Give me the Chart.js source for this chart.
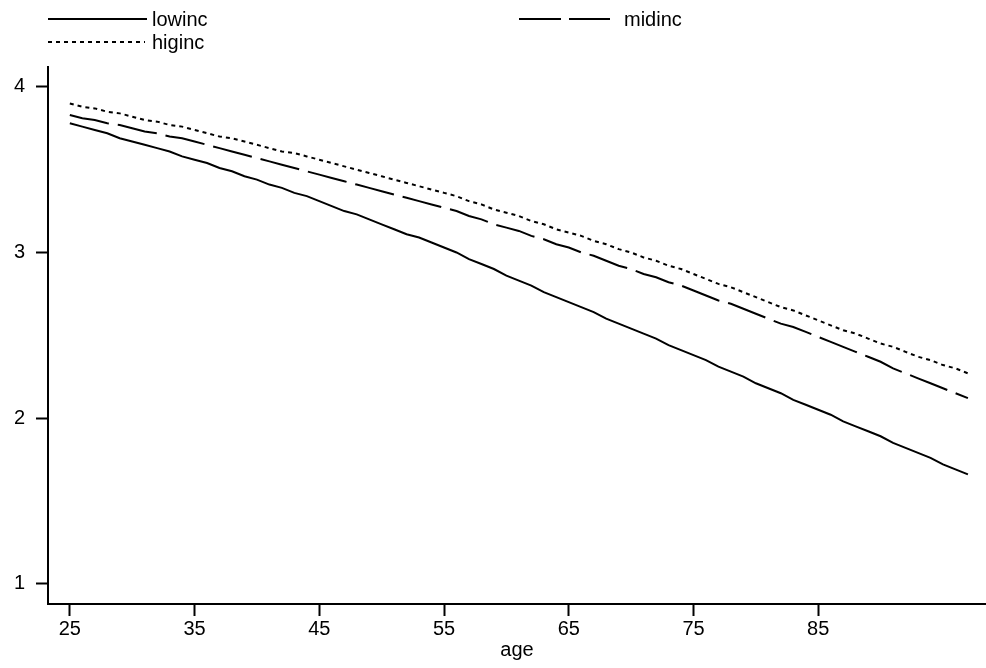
<!DOCTYPE html>
<html>
<head>
<meta charset="utf-8">
<script src="https://cdn.jsdelivr.net/npm/chart.js@4/dist/chart.umd.min.js"></script>
<style>
  html, body { margin: 0; padding: 0; background: #fff; }
  #wrap { width: 986px; height: 668px; }
</style>
</head>
<body>
<div id="wrap"><canvas id="chart"></canvas></div>
<script>
// ages 25..97
const ages = [25,26,27,28,29,30,31,32,33,34,35,36,37,38,39,40,41,42,43,44,45,46,47,48,49,
  50,51,52,53,54,55,56,57,58,59,60,61,62,63,64,65,66,67,68,69,70,71,72,73,74,
  75,76,77,78,79,80,81,82,83,84,85,86,87,88,89,90,91,92,93,94,95,96,97];

const lowinc = [3.78,3.76,3.74,3.72,3.69,3.67,3.65,3.63,3.61,3.58,3.56,
  3.54,3.51,3.49,3.46,3.44,3.41,3.39,3.36,3.34,3.31,
  3.28,3.25,3.23,3.20,3.17,3.14,3.11,3.09,3.06,3.03,
  3.00,2.96,2.93,2.90,2.86,2.83,2.80,2.76,2.73,2.70,
  2.67,2.64,2.60,2.57,2.54,2.51,2.48,2.44,2.41,2.38,
  2.35,2.31,2.28,2.25,2.21,2.18,2.15,2.11,2.08,2.05,
  2.02,1.98,1.95,1.92,1.89,1.85,1.82,1.79,1.76,1.72,1.69,1.66];

const midinc = [3.83,3.81,3.80,3.78,3.77,3.75,3.73,3.72,3.70,3.69,3.67,
  3.65,3.63,3.61,3.59,3.57,3.55,3.53,3.51,3.49,3.47,
  3.45,3.43,3.41,3.39,3.37,3.35,3.33,3.31,3.29,3.27,
  3.25,3.22,3.20,3.17,3.15,3.13,3.10,3.08,3.05,3.03,
  3.00,2.98,2.95,2.92,2.90,2.87,2.85,2.82,2.80,2.77,
  2.74,2.71,2.69,2.66,2.63,2.60,2.57,2.55,2.52,2.49,
  2.46,2.43,2.40,2.37,2.34,2.30,2.27,2.24,2.21,2.18,2.15,2.12];

const higinc = [3.90,3.88,3.87,3.85,3.84,3.82,3.80,3.79,3.77,3.76,3.74,
  3.72,3.70,3.69,3.67,3.65,3.63,3.61,3.60,3.58,3.56,
  3.54,3.52,3.50,3.48,3.46,3.44,3.42,3.40,3.38,3.36,
  3.34,3.31,3.29,3.26,3.24,3.22,3.19,3.17,3.14,3.12,
  3.10,3.07,3.05,3.02,3.00,2.97,2.95,2.92,2.90,2.87,
  2.84,2.81,2.79,2.76,2.73,2.70,2.67,2.65,2.62,2.59,
  2.56,2.53,2.51,2.48,2.45,2.43,2.40,2.37,2.35,2.32,2.30,2.27];

const xTicks = [25, 35, 45, 55, 65, 75, 85];
const yTicks = [1, 2, 3, 4];

const FONT = '"Liberation Sans", Arial, sans-serif';

// Stata-style legend: two columns, long line samples
const stataLegend = {
  id: 'stataLegend',
  afterDraw(chart) {
    const ctx = chart.ctx;
    const spots = [{ x: 48, y: 19, w: 99 }, { x: 519, y: 19, w: 91 }, { x: 48, y: 42, w: 97 }];
    const textX = [152, 624, 152];
    chart.data.datasets.forEach((ds, i) => {
      const p = spots[i];
      ctx.save();
      ctx.strokeStyle = ds.borderColor;
      ctx.lineWidth = ds.borderWidth;
      ctx.setLineDash(ds.legendDash || ds.borderDash || []);
      ctx.beginPath();
      ctx.moveTo(p.x, p.y);
      ctx.lineTo(p.x + p.w, p.y);
      ctx.stroke();
      ctx.setLineDash([]);
      ctx.fillStyle = '#000';
      ctx.font = '20px ' + FONT;
      ctx.textBaseline = 'middle';
      ctx.fillText(ds.label, textX[i], p.y + 1);
      ctx.restore();
    });
  }
};

const toPts = vals => vals.map((v, i) => ({ x: ages[i], y: v }));

new Chart(document.getElementById('chart'), {
  type: 'line',
  data: {
    datasets: [
      { label: 'lowinc', data: toPts(lowinc), borderColor: '#000', borderWidth: 2, pointRadius: 0 },
      { label: 'midinc', data: toPts(midinc), borderColor: '#000', borderWidth: 2, pointRadius: 0,
        borderDash: [40, 9], legendDash: [42, 8] },
      { label: 'higinc', data: toPts(higinc), borderColor: '#000', borderWidth: 2, pointRadius: 0,
        borderDash: [4, 4] }
    ]
  },
  options: {
    responsive: true,
    maintainAspectRatio: false,
    animation: false,
    layout: { padding: { top: 67, right: 0, left: 0, bottom: 0 } },
    plugins: { legend: { display: false }, tooltip: { enabled: false } },
    scales: {
      x: {
        type: 'linear',
        min: 23.25,
        max: 98.45,
        afterBuildTicks: s => { s.ticks = xTicks.map(v => ({ value: v })); },
        afterFit: s => { s.height = 64; },
        grid: { drawOnChartArea: false, tickLength: 12, tickWidth: 2, color: '#000' },
        border: { display: true, color: '#000', width: 2 },
        ticks: { color: '#000', font: { size: 20, family: FONT }, padding: 1, maxRotation: 0 },
        title: { display: true, text: 'age', color: '#000', font: { size: 20, family: FONT },
          padding: { top: 0, bottom: 6 } }
      },
      y: {
        min: 0.877,
        max: 4.12,
        afterBuildTicks: s => { s.ticks = yTicks.map(v => ({ value: v })); },
        afterFit: s => { s.width = 48; },
        grid: { drawOnChartArea: false, tickLength: 12, tickWidth: 2, color: '#000' },
        border: { display: true, color: '#000', width: 2 },
        ticks: { color: '#000', font: { size: 20, family: FONT }, padding: 11 }
      }
    }
  },
  plugins: [stataLegend]
});
</script>
</body>
</html>
